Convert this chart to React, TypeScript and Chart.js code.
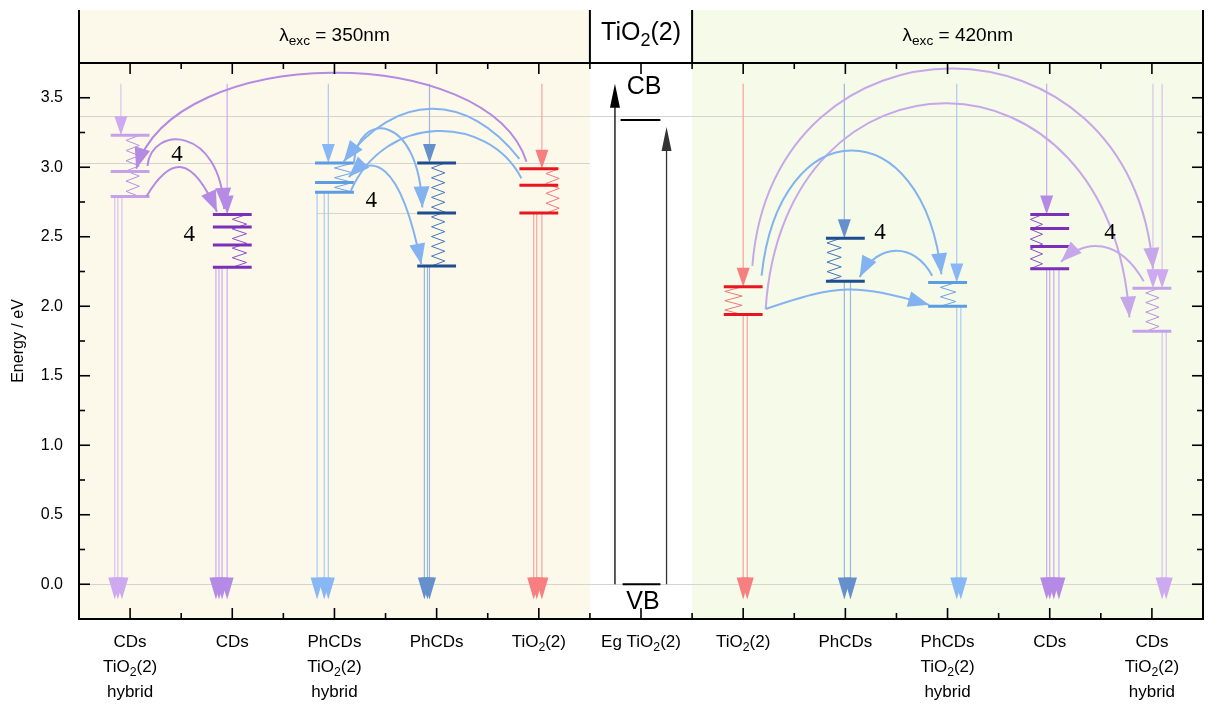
import React, { useEffect, useRef } from "react";
import { Chart, registerables } from "chart.js";

Chart.register(...registerables);

// ---------------- data ----------------
const categoryLabels: string[][] = [
  ["CDs", "TiO_2(2)", "hybrid"],
  ["CDs"],
  ["PhCDs", "TiO_2(2)", "hybrid"],
  ["PhCDs"],
  ["TiO_2(2)"],
  ["Eg TiO_2(2)"],
  ["TiO_2(2)"],
  ["PhCDs"],
  ["PhCDs", "TiO_2(2)", "hybrid"],
  ["CDs"],
  ["CDs", "TiO_2(2)", "hybrid"],
];
const headerLabels = ["λ_{exc} = 350nm", "TiO_2(2)", "λ_{exc} = 420nm"];
const yTickValues = [0, 0.5, 1.0, 1.5, 2.0, 2.5, 3.0, 3.5];
const yMinorTickValues = [0.25, 0.75, 1.25, 1.75, 2.25, 2.75, 3.25];
const xTickValues = [0, 1, 2, 3, 4, 5, 6, 7, 8, 9, 10];
const xMinorTickValues = [0.5, 1.5, 2.5, 3.5, 4.5, 5.5, 6.5, 7.5, 8.5, 9.5];

// energy levels (eV)
const levelsCDsHybrid350 = [3.23, 2.97, 2.79];
const levelsCDs350 = [2.66, 2.57, 2.44, 2.28];
const levelsPhCDsHybrid350 = [3.03, 2.89, 2.82];
const levelsPhCDs350 = [3.03, 2.67, 2.29];
const levelsTiO2_350 = [2.99, 2.87, 2.67];
const levelsTiO2_420 = [2.14, 1.94];
const levelsPhCDs420 = [2.49, 2.18];
const levelsPhCDsHybrid420 = [2.17, 2.0];
const levelsCDs420 = [2.66, 2.56, 2.43, 2.27];
const levelsCDsHybrid420 = [2.13, 1.82];

const egBandEdges = [3.34, 0.0]; // CB, VB
const egArrowTops = [3.6, 3.29];
const excitationFromE = 3.6;
const emissionToE = -0.11;

const referenceEnergies = [3.37, 3.03, 2.67, 0.0];
const referenceFrom = [-0.5, -0.5, 1.83, -0.5];
const referenceTo = [10.5, 4.5, 3.0, 10.5];

// transfers: [fromX, fromE, toX, toE, peakE]
const transfersCDs350 = [
  [3.88, 3.04, 0.06, 2.99, 3.68],
  [0.17, 3.01, 0.92, 2.7, 3.19],
  [0.16, 2.79, 0.85, 2.68, 3.0],
];
const transfersPhCDs350 = [
  [3.81, 3.06, 2.09, 3.04, 3.42],
  [3.83, 2.92, 2.16, 2.83, 3.26],
  [2.19, 3.03, 2.86, 2.71, 3.27],
  [2.14, 2.93, 2.85, 2.3, 2.97],
];
const transfersCDs420 = [
  [6.09, 2.29, 10.01, 2.27, 3.71],
  [6.22, 1.98, 9.78, 1.92, 3.46],
  [9.92, 2.18, 9.11, 2.32, 2.43],
];
const transfersPhCDs420 = [
  [6.18, 2.22, 7.94, 2.23, 3.12],
  [7.85, 2.22, 7.14, 2.21, 2.4],
  [6.22, 1.98, 7.82, 2.01, 2.12],
];
const stepCountLabels = ["4", "4", "4", "4", "4"];
const stepCountX = [0.46, 0.58, 2.36, 7.34, 9.59];
const stepCountE = [3.09, 2.51, 2.76, 2.53, 2.53];

// ---------------- styles ----------------
const SANS = 'Arial, "Liberation Sans", sans-serif';
const SERIF = '"Liberation Serif", "Times New Roman", serif';
const CREAM = "#FDF9EA";
const GREEN = "#F6FAE8";
const GRID = "#D3D3CF";

const LAV = { level: "#C6A1EA", zig: "#B892E2", thin: "#D8C2F2", head: "#CDAAEF" };
const PUR = { level: "#7A30B8", zig: "#8C50C8", thin: "#C9ADEC", head: "#B58AE6" };
const LBL = { level: "#5C9CE3", zig: "#6EA4E6", thin: "#A9CBF2", head: "#88B7F5" };
const DBL = { level: "#1E4E8F", zig: "#4676BC", thin: "#9AB7DF", head: "#6690CC" };
const RED = { level: "#E8161E", zig: "#F07A7A", thin: "#F5A3A3", head: "#F77F7F" };

const LEVEL_HW = 0.19;

const columns = [
  { x: 0, levels: levelsCDsHybrid350, pal: LAV, exc: [-0.09], emit: [-0.15, -0.12, -0.08], zig: [-0.04, 0.09] },
  { x: 1, levels: levelsCDs350, pal: PUR, exc: [-0.05], emit: [-0.16, -0.13, -0.1, -0.05], zig: [0.0, 0.14] },
  { x: 2, levels: levelsPhCDsHybrid350, pal: LBL, exc: [-0.06], emit: [-0.17, -0.1, -0.06], zig: [0.0, 0.18] },
  { x: 3, levels: levelsPhCDs350, pal: DBL, exc: [-0.07], emit: [-0.12, -0.09, -0.07], zig: [-0.05, 0.08] },
  { x: 4, levels: levelsTiO2_350, pal: RED, exc: [0.03], emit: [-0.05, -0.02, 0.03], zig: [0.07, 0.2] },
  { x: 6, levels: levelsTiO2_420, pal: RED, exc: [0.0], emit: [0.0, 0.04], zig: [-0.18, -0.01] },
  { x: 7, levels: levelsPhCDs420, pal: DBL, exc: [-0.01], emit: [-0.01, 0.05], zig: [-0.18, -0.04] },
  { x: 8, levels: levelsPhCDsHybrid420, pal: LBL, exc: [0.09], emit: [0.09, 0.13], zig: [-0.07, 0.08] },
  { x: 9, levels: levelsCDs420, pal: PUR, exc: [-0.03], emit: [-0.03, 0.0, 0.04, 0.09], zig: [-0.19, -0.07] },
  { x: 10, levels: levelsCDsHybrid420, pal: LAV, exc: [0.01, 0.1], emit: [0.1, 0.14], zig: [-0.06, 0.07] },
];

const transferGroups = [
  { data: transfersCDs350, color: "#B48AE2", bend: [0.1, 0.05, 0.35], heads: ["end", "end", "end"] },
  { data: transfersPhCDs350, color: "#82B2F0", bend: [0.3, 0.2, 0.05, 0.3], heads: ["end", "none", "end", "both"] },
  { data: transfersCDs420, color: "#C6A8EA", bend: [0.05, 0.05, 0.3], heads: ["end", "end", "end"] },
  { data: transfersPhCDs420, color: "#82B2F0", bend: [0.1, 0.25, 0.45], heads: ["end", "end", "end"] },
];

// ---------------- helpers ----------------
type Seg = { t: string; sub: boolean };
function parseRich(s: string): Seg[] {
  const out: Seg[] = [];
  let buf = "";
  let i = 0;
  while (i < s.length) {
    if (s[i] === "_") {
      if (buf) { out.push({ t: buf, sub: false }); buf = ""; }
      if (s[i + 1] === "{") {
        const j = s.indexOf("}", i);
        out.push({ t: s.slice(i + 2, j), sub: true });
        i = j + 1;
      } else {
        out.push({ t: s[i + 1], sub: true });
        i += 2;
      }
    } else {
      buf += s[i];
      i++;
    }
  }
  if (buf) out.push({ t: buf, sub: false });
  return out;
}

function drawRich(ctx: CanvasRenderingContext2D, s: string, x: number, yMid: number, size: number, family: string) {
  const segs = parseRich(s);
  const widths = segs.map((sg) => {
    ctx.font = `${sg.sub ? size * 0.72 : size}px ${family}`;
    return ctx.measureText(sg.t).width;
  });
  const total = widths.reduce((a, b) => a + b, 0);
  let cx = x - total / 2;
  const base = yMid + size * 0.36;
  ctx.textAlign = "left";
  ctx.textBaseline = "alphabetic";
  ctx.fillStyle = "#000";
  segs.forEach((sg, k) => {
    ctx.font = `${sg.sub ? size * 0.72 : size}px ${family}`;
    ctx.fillText(sg.t, cx, sg.sub ? base + size * 0.24 : base);
    cx += widths[k];
  });
}

function arrowHead(ctx: CanvasRenderingContext2D, tx: number, ty: number, dx: number, dy: number, len: number, hw: number, color: string) {
  const n = Math.hypot(dx, dy) || 1;
  const ux = dx / n;
  const uy = dy / n;
  const bx = tx - ux * len;
  const by = ty - uy * len;
  ctx.beginPath();
  ctx.moveTo(tx, ty);
  ctx.lineTo(bx - uy * hw, by + ux * hw);
  ctx.lineTo(bx + uy * hw, by - ux * hw);
  ctx.closePath();
  ctx.fillStyle = color;
  ctx.fill();
}

function vline(ctx: CanvasRenderingContext2D, x: number, y0: number, y1: number, color: string, w: number) {
  ctx.beginPath();
  ctx.moveTo(x, y0);
  ctx.lineTo(x, y1);
  ctx.strokeStyle = color;
  ctx.lineWidth = w;
  ctx.stroke();
}

const diagramPlugin = {
  id: "diagram",
  beforeDraw(chart: any) {
    const { ctx, chartArea: a } = chart;
    const xs = chart.scales.x;
    const px = (v: number) => xs.getPixelForValue(v);
    const headerTop = 10;
    ctx.save();
    const regions: [number, number, string][] = [
      [-0.5, 4.5, CREAM],
      [4.5, 5.5, "#FFFFFF"],
      [5.5, 10.5, GREEN],
    ];
    regions.forEach(([r0, r1, c]) => {
      ctx.fillStyle = c;
      ctx.fillRect(px(r0), headerTop, px(r1) - px(r0), a.bottom - headerTop);
    });
    [-0.5, 4.5, 5.5, 10.5].forEach((v) => vline(ctx, px(v), headerTop, a.top, "#000", 2));
    drawRich(ctx, headerLabels[0], px(2.0), 34, 19, SANS);
    drawRich(ctx, headerLabels[1], px(5.0), 31, 25, SANS);
    drawRich(ctx, headerLabels[2], px(8.1), 34, 19, SANS);
    ctx.restore();
  },
  beforeDatasetsDraw(chart: any) {
    const { ctx } = chart;
    const xs = chart.scales.x;
    const ys = chart.scales.y;
    const px = (v: number) => xs.getPixelForValue(v);
    const py = (v: number) => ys.getPixelForValue(v);
    ctx.save();
    referenceEnergies.forEach((E, i) => {
      ctx.beginPath();
      ctx.moveTo(px(referenceFrom[i]), Math.round(py(E)) + 0.5);
      ctx.lineTo(px(referenceTo[i]), Math.round(py(E)) + 0.5);
      ctx.strokeStyle = GRID;
      ctx.lineWidth = 1;
      ctx.stroke();
    });
    columns.forEach((c) => {
      const top = Math.max(...c.levels);
      const low = Math.min(...c.levels);
      c.emit.forEach((o) => {
        const xx = px(c.x + o);
        vline(ctx, xx, py(low), py(emissionToE) - 10, c.pal.thin, 1.2);
      });
      c.emit.forEach((o) => {
        const xx = px(c.x + o);
        arrowHead(ctx, xx, py(emissionToE), 0, 1, 22, 6.5, c.pal.head);
      });
      c.exc.forEach((o) => {
        const xx = px(c.x + o);
        vline(ctx, xx, py(excitationFromE), py(top) - 8, c.pal.thin, 1.2);
        arrowHead(ctx, xx, py(top), 0, 1, 19, 6.5, c.pal.head);
      });
      const x1 = px(c.x + c.zig[0]);
      const x2 = px(c.x + c.zig[1]);
      const y0 = py(top);
      const y1 = py(low);
      const n = Math.max(2, Math.round((y1 - y0) / 5));
      const step = (y1 - y0) / n;
      ctx.beginPath();
      ctx.moveTo(x2, y0);
      for (let k = 1; k <= n; k++) ctx.lineTo(k % 2 ? x1 : x2, y0 + k * step);
      ctx.strokeStyle = c.pal.zig;
      ctx.lineWidth = 1;
      ctx.stroke();
    });
    const egX = [4.745, 5.25];
    const egCol = ["#000000", "#333333"];
    egX.forEach((v, i) => {
      vline(ctx, px(v), py(egBandEdges[1]), py(egArrowTops[i]) + 10, egCol[i], 1.3);
      arrowHead(ctx, px(v), py(egArrowTops[i]), 0, -1, 24, 5, egCol[i]);
    });
    ctx.restore();
  },
  afterDatasetsDraw(chart: any) {
    const { ctx } = chart;
    const xs = chart.scales.x;
    const ys = chart.scales.y;
    const px = (v: number) => xs.getPixelForValue(v);
    const py = (v: number) => ys.getPixelForValue(v);
    ctx.save();
    transferGroups.forEach((g) => {
      g.data.forEach((t, i) => {
        const [fx, fE, tx, tE, pk] = t;
        const k = g.bend[i];
        const hc = (pk - (fE + tE) / 8) / 0.75;
        const p0 = [px(fx), py(fE)];
        const p1 = [px(fx + k * (tx - fx)), py(hc)];
        const p2 = [px(tx - k * (tx - fx)), py(hc)];
        const p3 = [px(tx), py(tE)];
        ctx.beginPath();
        ctx.moveTo(p0[0], p0[1]);
        ctx.bezierCurveTo(p1[0], p1[1], p2[0], p2[1], p3[0], p3[1]);
        ctx.strokeStyle = g.color;
        ctx.lineWidth = 2;
        ctx.stroke();
        if (g.heads[i] !== "none") arrowHead(ctx, p3[0], p3[1], p3[0] - p2[0], p3[1] - p2[1], 21, 8, g.color);
        if (g.heads[i] === "both") arrowHead(ctx, p0[0], p0[1], p0[0] - p1[0], p0[1] - p1[1], 21, 8, g.color);
      });
    });
    ctx.fillStyle = "#000";
    ctx.font = `23px ${SERIF}`;
    ctx.textAlign = "center";
    ctx.textBaseline = "middle";
    stepCountLabels.forEach((s, i) => ctx.fillText(s, px(stepCountX[i]), py(stepCountE[i])));
    ctx.font = `25px ${SANS}`;
    ctx.fillText("CB", px(5.03), py(3.58));
    ctx.fillText("VB", px(5.02), py(-0.13));
    ctx.restore();
  },
  afterDraw(chart: any) {
    const { ctx, chartArea: a } = chart;
    const xs = chart.scales.x;
    const ys = chart.scales.y;
    const px = (v: number) => xs.getPixelForValue(v);
    const py = (v: number) => ys.getPixelForValue(v);
    ctx.save();
    ctx.strokeStyle = "#000";
    ctx.lineWidth = 2;
    ctx.strokeRect(a.left, a.top, a.right - a.left, a.bottom - a.top);
    ctx.lineWidth = 1.6;
    const tick = (x0: number, y0: number, x1: number, y1: number) => {
      ctx.beginPath();
      ctx.moveTo(x0, y0);
      ctx.lineTo(x1, y1);
      ctx.stroke();
    };
    xTickValues.forEach((v) => {
      tick(px(v), a.bottom, px(v), a.bottom - 11);
      tick(px(v), a.top, px(v), a.top + 11);
    });
    xMinorTickValues.forEach((v) => {
      tick(px(v), a.bottom, px(v), a.bottom - 6);
      tick(px(v), a.top, px(v), a.top + 6);
    });
    yTickValues.forEach((v) => {
      tick(a.left, py(v), a.left + 11, py(v));
      tick(a.right, py(v), a.right - 11, py(v));
    });
    yMinorTickValues.forEach((v) => {
      tick(a.left, py(v), a.left + 6, py(v));
      tick(a.right, py(v), a.right - 6, py(v));
    });
    categoryLabels.forEach((lines, i) => {
      lines.forEach((ln, j) => drawRich(ctx, ln, px(i), a.bottom + 22 + j * 25, 17, SANS));
    });
    ctx.restore();
  },
};

export default function App() {
  const ref = useRef<HTMLCanvasElement | null>(null);
  useEffect(() => {
    if (!ref.current) return;
    const levelSets = columns.map((c) => ({
      type: "line" as const,
      data: c.levels.flatMap((E) => [
        { x: c.x - LEVEL_HW, y: E },
        { x: c.x + LEVEL_HW, y: E },
        { x: c.x, y: null },
      ]),
      borderColor: c.pal.level,
      borderWidth: 3,
      pointRadius: 0,
      spanGaps: false,
      fill: false,
      tension: 0,
    }));
    const egSet = {
      type: "line" as const,
      data: [
        { x: 4.8, y: egBandEdges[0] },
        { x: 5.19, y: egBandEdges[0] },
        { x: 5.0, y: null },
        { x: 4.82, y: egBandEdges[1] },
        { x: 5.19, y: egBandEdges[1] },
      ],
      borderColor: "#000",
      borderWidth: 2,
      pointRadius: 0,
      spanGaps: false,
      fill: false,
    };
    const chart = new Chart(ref.current, {
      type: "line",
      data: { datasets: [...levelSets, egSet] as any },
      options: {
        animation: false,
        responsive: true,
        maintainAspectRatio: false,
        events: [],
        layout: { padding: { top: 63, right: 5, bottom: 0, left: 0 } },
        plugins: { legend: { display: false }, tooltip: { enabled: false } },
        scales: {
          x: {
            type: "linear",
            min: -0.5,
            max: 10.5,
            ticks: { display: false },
            grid: { display: false, drawTicks: false },
            border: { display: false },
            afterFit: (s: any) => { s.height = 85; },
          },
          y: {
            type: "linear",
            min: -0.25,
            max: 3.75,
            afterBuildTicks: (s: any) => { s.ticks = yTickValues.map((v) => ({ value: v })); },
            ticks: {
              color: "#000",
              padding: 16,
              font: { family: SANS, size: 16 },
              callback: (v: any) => Number(v).toFixed(1),
            },
            grid: { display: false, drawTicks: false },
            border: { display: false },
            title: {
              display: true,
              text: "Energy / eV",
              color: "#000",
              font: { family: SANS, size: 16 },
              padding: { top: 9, bottom: 0 },
            },
            afterFit: (s: any) => { s.width = 79; },
          },
        },
      } as any,
      plugins: [diagramPlugin],
    });
    return () => chart.destroy();
  }, []);
  return (
    <div style={{ position: "fixed", left: 0, top: 0, width: "1208px", height: "704px", background: "#fff" }}>
      <canvas ref={ref} />
    </div>
  );
}
